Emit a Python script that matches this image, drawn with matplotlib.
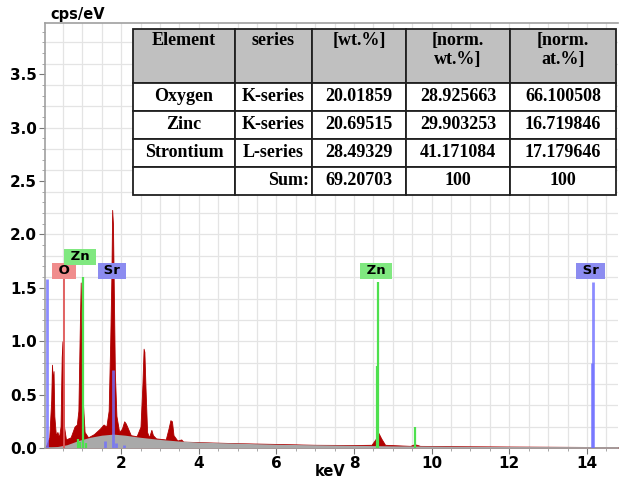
import matplotlib.pyplot as plt
from matplotlib.patches import Rectangle
from matplotlib.ticker import MultipleLocator

# measured spectrum (keV, cps/eV)
spec_kev = [0.05, 0.10, 0.15, 0.20, 0.22, 0.24, 0.26, 0.28, 0.32, 0.36, 0.40, 0.44, 0.47, 0.49,
            0.51, 0.53, 0.58, 0.70, 0.80, 0.86, 0.90, 0.94, 0.96, 0.98, 1.00, 1.02, 1.06, 1.15,
            1.30, 1.45, 1.55, 1.62, 1.68, 1.72, 1.75, 1.77, 1.79, 1.81, 1.84, 1.88, 1.95, 2.02,
            2.08, 2.12, 2.18, 2.25, 2.40, 2.50, 2.55, 2.58, 2.60, 2.63, 2.67, 2.72, 2.78, 2.82,
            2.90, 3.15, 3.22, 3.27, 3.31, 3.35, 3.45, 3.55, 3.60, 4.00, 5.00, 6.00, 7.00, 8.00,
            8.45, 8.55, 8.63, 8.70, 8.80, 9.45, 9.55, 9.62, 9.70, 11.0, 12.0, 13.0, 14.0, 14.8]
spec_cps = [0.00, 0.05, 0.10, 0.45, 0.78, 0.62, 0.72, 0.30, 0.12, 0.15, 0.10, 0.20, 0.85, 1.00,
            0.70, 0.20, 0.08, 0.10, 0.20, 0.22, 0.35, 1.20, 1.55, 1.10, 0.75, 0.40, 0.15, 0.10,
            0.13, 0.18, 0.22, 0.20, 0.35, 1.00, 1.60, 2.23, 2.10, 1.55, 0.70, 0.30, 0.15, 0.18,
            0.25, 0.23, 0.18, 0.12, 0.11, 0.20, 0.60, 0.93, 0.90, 0.55, 0.15, 0.10, 0.17, 0.12,
            0.09, 0.08, 0.18, 0.26, 0.25, 0.12, 0.07, 0.08, 0.06, 0.055, 0.045, 0.038, 0.030, 0.028,
            0.030, 0.080, 0.140, 0.090, 0.030, 0.020, 0.035, 0.030, 0.020, 0.016, 0.014, 0.012, 0.010, 0.010]

# background fit
bg_kev = [0.10, 0.30, 0.60, 0.90, 1.20, 1.50, 1.80, 2.10, 2.50, 3.00, 3.50, 4.00, 5.00, 6.00,
          7.00, 8.00, 9.00, 10.0, 11.0, 12.0, 13.0, 14.0, 14.8]
bg_cps = [0.00, 0.01, 0.03, 0.07, 0.10, 0.12, 0.13, 0.12, 0.10, 0.08, 0.065, 0.055, 0.045, 0.035,
          0.030, 0.025, 0.020, 0.018, 0.015, 0.013, 0.011, 0.010, 0.010]

# element line markers
zn_kev = [0.88, 0.93, 1.01, 1.10, 8.60, 8.63, 9.57]
zn_cps = [0.08, 0.06, 1.60, 0.05, 0.77, 1.55, 0.20]
sr_kev = [0.08, 1.58, 1.80, 1.87, 2.07, 14.14, 14.16]
sr_cps = [1.58, 0.07, 0.73, 0.05, 0.03, 0.80, 1.55]
o_kev = [0.52]
o_cps = [1.60]

# peak labels
label_text = ["O", "Zn", "Sr", "Zn", "Sr"]
label_kev = [0.53, 0.94, 1.77, 8.57, 14.09]
label_cps = [1.66, 1.79, 1.66, 1.66, 1.66]
label_color = ["#f08c8c", "#80e880", "#8c8cf0", "#80e880", "#8c8cf0"]

# quantification table
col_header = ["Element", "series", "[wt.%]", "[norm.\nwt.%]", "[norm.\nat.%]"]
tbl_element = ["Oxygen", "Zinc", "Strontium", ""]
tbl_series = ["K-series", "K-series", "L-series", "Sum:"]
tbl_wt = ["20.01859", "20.69515", "28.49329", "69.20703"]
tbl_norm_wt = ["28.925663", "29.903253", "41.171084", "100"]
tbl_norm_at = ["66.100508", "16.719846", "17.179646", "100"]

fig = plt.figure(figsize=(6.21, 4.78), dpi=100)
ax = fig.add_axes([45 / 621, 1 - 448 / 478, 573 / 621, 425 / 478])

ax.fill_between(spec_kev, spec_cps, color="#b00000", lw=0.6, zorder=2)
ax.fill_between(bg_kev, bg_cps, color="#a9a9a9", lw=0, zorder=3)

ax.vlines(o_kev, 0, o_cps, color="#e05858", lw=1.3, zorder=4)
ax.vlines(zn_kev, 0, zn_cps, color="#4ee04e", lw=1.6, zorder=4)
ax.vlines(sr_kev, 0, sr_cps, color="#7070ff", lw=2.0, alpha=0.8, zorder=4)

for t, x, y, c in zip(label_text, label_kev, label_cps, label_color):
    ax.text(x, y, " " + t + " ", ha="center", va="center", fontsize=9.5, fontweight="bold",
            zorder=6 + (t == "Zn"), bbox=dict(boxstyle="square,pad=0.12", fc=c, ec="none"))

ax.set_xlim(0.04, 14.8)
ax.set_ylim(0, 3.98)
ax.xaxis.set_minor_locator(MultipleLocator(0.5))
ax.yaxis.set_minor_locator(MultipleLocator(0.1))
ax.set_xticks([2, 4, 6, 8, 10, 12, 14])
ax.set_yticks([0.0, 0.5, 1.0, 1.5, 2.0, 2.5, 3.0, 3.5])
ax.set_yticklabels(["0.0", "0.5", "1.0", "1.5", "2.0", "2.5", "3.0", "3.5"])
for lbl in ax.get_xticklabels() + ax.get_yticklabels():
    lbl.set_fontweight("bold")
    lbl.set_fontsize(11)
ax.tick_params(which="major", length=4, color="#777777", pad=2)
ax.tick_params(which="minor", length=2, color="#999999")
ax.spines["right"].set_visible(False)
for s in ["left", "bottom", "top"]:
    ax.spines[s].set_color("#a0a0a0")
    ax.spines[s].set_linewidth(1.2)

# light grid
for gx in [i * 0.5 for i in range(1, 30)]:
    ax.axvline(gx, color="#e4e4e4", lw=0.9, zorder=0)
for gy in [i * 0.2 for i in range(1, 20)]:
    ax.axhline(gy, color="#e4e4e4", lw=0.9, zorder=0)

fig.text(50 / 621, 1 - 15 / 478, "cps/eV", fontsize=10.5, fontweight="bold", va="center")
fig.text(330 / 621, 1 - 472 / 478, "keV", fontsize=10.5, fontweight="bold", ha="center", va="center")

# table, axes coordinates
col_x = [0.1536, 0.3316, 0.466, 0.630, 0.8115, 0.9965]
row_y = [0.986, 0.859, 0.7932, 0.7273, 0.6614, 0.5955]
cols = [[col_header[0]] + tbl_element, [col_header[1]] + tbl_series,
        [col_header[2]] + tbl_wt, [col_header[3]] + tbl_norm_wt, [col_header[4]] + tbl_norm_at]
tfont = dict(family="Liberation Serif", fontweight="bold", fontsize=13, zorder=11)
for ci in range(5):
    for ri in range(5):
        x0, x1 = col_x[ci], col_x[ci + 1]
        y1, y0 = row_y[ri], row_y[ri + 1]
        fc = "#c0c0c0" if ri == 0 else "white"
        ax.add_patch(Rectangle((x0, y0), x1 - x0, y1 - y0, transform=ax.transAxes,
                               fc=fc, ec="#202020", lw=1.3, zorder=10))
        txt = cols[ci][ri]
        if ri == 0:
            ax.text((x0 + x1) / 2, y1 - 0.008, txt, ha="center", va="top", transform=ax.transAxes,
                    linespacing=1.1, **tfont)
        elif ci == 1 and ri == 4:
            ax.text(x1 - 0.006, (y0 + y1) / 2, txt, ha="right", va="center", transform=ax.transAxes, **tfont)
        else:
            ax.text((x0 + x1) / 2, (y0 + y1) / 2, txt, ha="center", va="center", transform=ax.transAxes, **tfont)

fig.savefig("out.png", dpi=100)
